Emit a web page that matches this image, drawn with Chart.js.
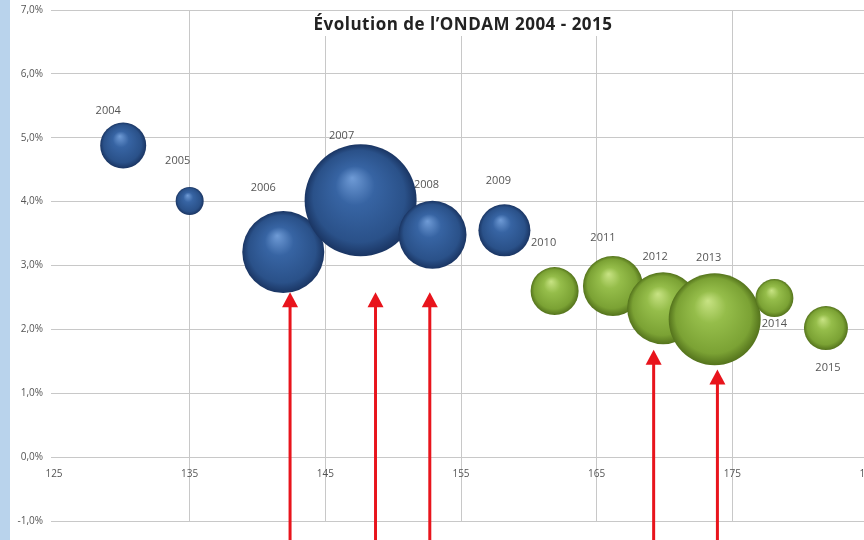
<!DOCTYPE html>
<html>
<head>
<meta charset="utf-8">
<script src="https://cdn.jsdelivr.net/npm/chart.js@4.4.1/dist/chart.umd.min.js"></script>
<style>
html, body { margin:0; padding:0; background:#fff; overflow:hidden; }
#wrap { position:relative; width:880px; height:540px; }
#strip { position:absolute; left:0; top:0; width:10px; height:540px; background:#b9d3ec; }
</style>
</head>
<body>
<div id="wrap">
  <canvas id="ondamChart" width="880" height="540"></canvas>
  <div id="strip"></div>
</div>
<script>
// donnees
const annees = ['2004','2005','2006','2007','2008','2009','2010','2011','2012','2013','2014','2015'];
const ondamMds = [130.1, 135.0, 141.9, 147.6, 152.9, 158.2, 161.9, 166.2, 169.9, 173.7, 178.1, 181.9];
const tauxEvolution = [4.88, 4.01, 3.21, 4.02, 3.48, 3.55, 2.60, 2.68, 2.33, 2.16, 2.49, 2.02];
const tailleBulle = [23, 14, 41, 56, 34, 26, 24, 30, 36, 46, 19, 22];
const xTicks = [125, 135, 145, 155, 165, 175, 185];
const yTicks = [-1, 0, 1, 2, 3, 4, 5, 6, 7];

// fleches rouges (abscisse, pointe en %)
const flecheX = [142.4, 148.7, 152.7, 169.2, 173.9];
const flecheY = [2.58, 2.58, 2.58, 1.68, 1.37];

// decalage des etiquettes par rapport au centre des bulles (px)
const labelOffsets = [[-15,-35],[-12,-40],[-20,-64],[-19,-64],[-6,-50],[-6,-50],
                      [-11,-48],[-10,-48],[-8,-51],[-6,-61],[0,26],[2,40]];

const bleu = ['#6f9bd6', '#3764a3', '#2a5189', '#1a3563'];
const vert = ['#c8e384', '#95bd4a', '#7ba234', '#54731c'];

const points = (from, to) => annees.slice(from, to).map((a, i) => ({
    x: ondamMds[from + i], y: tauxEvolution[from + i], r: tailleBulle[from + i]
}));

const sphere = (cols) => (ctx) => {
    const chart = ctx.chart;
    if (ctx.type !== 'data' || !chart.chartArea) return cols[2];
    const p = ctx.raw;
    const cx = chart.scales.x.getPixelForValue(p.x);
    const cy = chart.scales.y.getPixelForValue(p.y);
    const r = p.r;
    const g = chart.ctx.createRadialGradient(cx - r * 0.15, cy - r * 0.4, 0, cx, cy, r);
    g.addColorStop(0, cols[0]);
    g.addColorStop(0.35, cols[1]);
    g.addColorStop(0.82, cols[2]);
    g.addColorStop(1, cols[3]);
    return g;
};

const titrePlugin = {
    id: 'titre',
    beforeDatasetsDraw(chart) {
        const c = chart.ctx;
        c.save();
        c.fillStyle = '#fff';
        c.fillRect(300, 11, 330, 25);
        c.font = 'bold 17px "Open Sans"';
        c.letterSpacing = '0.5px';
        c.fillStyle = '#222';
        c.textAlign = 'center';
        c.textBaseline = 'alphabetic';
        c.fillText('Évolution de l’ONDAM 2004 - 2015', 463, 30);
        c.restore();
    }
};

const etiquettesPlugin = {
    id: 'etiquettes',
    beforeDatasetsDraw(chart) {
        const c = chart.ctx;
        c.save();
        c.font = '11px "Open Sans"';
        c.fillStyle = '#555';
        c.textAlign = 'center';
        c.textBaseline = 'middle';
        let k = 0;
        chart.data.datasets.forEach((ds, di) => {
            chart.getDatasetMeta(di).data.forEach((el) => {
                const off = labelOffsets[k];
                c.fillText(annees[k], el.x + off[0], el.y + off[1]);
                k++;
            });
        });
        c.restore();
    }
};

const flechesPlugin = {
    id: 'fleches',
    afterDatasetsDraw(chart) {
        const c = chart.ctx;
        const {x, y} = chart.scales;
        c.save();
        c.fillStyle = '#e8141c';
        c.strokeStyle = '#e8141c';
        c.lineWidth = 3;
        flecheX.forEach((fx, i) => {
            const px = x.getPixelForValue(fx);
            const tip = y.getPixelForValue(flecheY[i]);
            c.beginPath();
            c.moveTo(px, chart.height);
            c.lineTo(px, tip + 12);
            c.stroke();
            c.beginPath();
            c.moveTo(px, tip);
            c.lineTo(px - 8, tip + 15);
            c.lineTo(px + 8, tip + 15);
            c.closePath();
            c.fill();
        });
        c.restore();
    }
};

const data = {
    datasets: [
        { label: '2004-2009', data: points(0, 6), backgroundColor: sphere(bleu), borderWidth: 0 },
        { label: '2010-2015', data: points(6, 12), backgroundColor: sphere(vert), borderWidth: 0 }
    ]
};

const gris = '#c8c8c8';

const options = {
    responsive: false,
    animation: false,
    layout: { autoPadding: false, padding: { left: 0, top: 10, right: 12, bottom: 19 } },
    plugins: {
        legend: { display: false },
        tooltip: { enabled: false }
    },
    scales: {
        x: {
            type: 'linear',
            position: { y: 0 },
            min: xTicks[0],
            max: xTicks[xTicks.length - 1],
            afterBuildTicks: (s) => { s.ticks = xTicks.map(v => ({ value: v })); },
            afterFit: (s) => { s.paddingLeft = 0; s.paddingRight = 0; },
            grid: {
                color: (ctx) => ctx.tick && ctx.tick.value === xTicks[0] ? 'rgba(0,0,0,0)' : gris,
                drawTicks: false
            },
            border: { color: gris },
            ticks: {
                padding: 11,
                color: '#555',
                font: { family: 'Open Sans', size: 10 },
                callback: (v) => String(v)
            }
        },
        y: {
            type: 'linear',
            min: yTicks[0],
            max: yTicks[yTicks.length - 1],
            afterBuildTicks: (s) => { s.ticks = yTicks.map(v => ({ value: v })); },
            afterFit: (s) => { s.width = 54; s.paddingTop = 0; s.paddingBottom = 0; },
            grid: { color: gris, tickLength: 3 },
            border: { display: false },
            ticks: {
                padding: 8,
                color: '#555',
                font: { family: 'Open Sans', size: 10 },
                callback: (v) => v.toFixed(1).replace('.', ',') + '%'
            }
        }
    }
};

new Chart('ondamChart', {
    type: 'bubble',
    data,
    options,
    plugins: [titrePlugin, etiquettesPlugin, flechesPlugin]
});
</script>
</body>
</html>
